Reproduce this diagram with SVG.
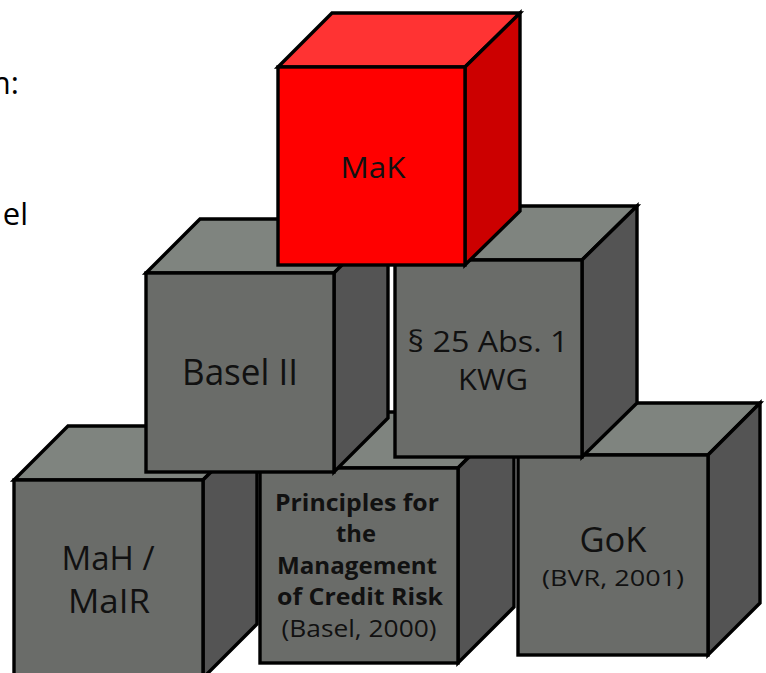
<svg xmlns="http://www.w3.org/2000/svg" width="766" height="673" viewBox="0 0 766 673">
  <style>
    .edge { stroke: #000; stroke-width: 3.4; stroke-linejoin: miter; }
    .g-front { fill: #6a6c69; }
    .g-top { fill: #7f847f; }
    .g-side { fill: #545454; }
    .r-front { fill: #ff0000; }
    .r-top { fill: #ff3333; }
    .r-side { fill: #cc0000; }
    .lbl { font-family: "Open Sans", "DejaVu Sans", sans-serif; fill: #111; text-anchor: middle; }
    .bold { font-weight: bold; }
    .side-txt { font-family: "Open Sans", "Liberation Sans", sans-serif; fill: #000; font-size: 31px; text-anchor: end; }
  </style>

  <!-- text running off the left edge -->
  <text class="side-txt" x="19" y="94">n:</text>
  <text class="side-txt" x="28" y="225">el</text>

  <!-- bottom row -->
  <g id="cube-mah">
    <polygon class="edge g-top" points="14,480 68,426 257,426 203,480"/>
    <polygon class="edge g-side" points="203,480 257,426 257,624 203,678"/>
    <rect class="edge g-front" x="14" y="480" width="189" height="198"/>
    <text class="lbl" font-size="32" x="108" y="570" textLength="93" lengthAdjust="spacingAndGlyphs">MaH /</text>
    <text class="lbl" font-size="32" x="109" y="613" textLength="82" lengthAdjust="spacingAndGlyphs">MaIR</text>
  </g>

  <g id="cube-principles">
    <polygon class="edge g-top" points="260,468 316,412 514,412 458,468"/>
    <polygon class="edge g-side" points="458,468 514,412 514,607 458,663"/>
    <rect class="edge g-front" x="260" y="468" width="198" height="195"/>
    <text class="lbl bold" font-size="23" x="357" y="511" textLength="164" lengthAdjust="spacingAndGlyphs">Principles for</text>
    <text class="lbl bold" font-size="23" x="356" y="542" textLength="40" lengthAdjust="spacingAndGlyphs">the</text>
    <text class="lbl bold" font-size="23" x="357" y="574" textLength="160" lengthAdjust="spacingAndGlyphs">Management</text>
    <text class="lbl bold" font-size="23" x="360" y="605" textLength="166" lengthAdjust="spacingAndGlyphs">of Credit Risk</text>
    <text class="lbl" font-size="23" x="359" y="637" textLength="155" lengthAdjust="spacingAndGlyphs">(Basel, 2000)</text>
  </g>

  <g id="cube-gok">
    <polygon class="edge g-top" points="518,455 570,403 760,403 708,455"/>
    <polygon class="edge g-side" points="708,455 760,403 760,603 708,655"/>
    <rect class="edge g-front" x="518" y="455" width="190" height="200"/>
    <text class="lbl" font-size="34" x="613" y="552" textLength="67" lengthAdjust="spacingAndGlyphs">GoK</text>
    <text class="lbl" font-size="22" x="613" y="586" textLength="142" lengthAdjust="spacingAndGlyphs">(BVR, 2001)</text>
  </g>

  <!-- middle row -->
  <g id="cube-basel">
    <polygon class="edge g-top" points="146,273 200,219 388,219 334,273"/>
    <polygon class="edge g-side" points="334,273 388,219 388,418 334,472"/>
    <rect class="edge g-front" x="146" y="273" width="188" height="199"/>
    <text class="lbl" font-size="37" x="240" y="385" textLength="116" lengthAdjust="spacingAndGlyphs">Basel II</text>
  </g>

  <g id="cube-kwg">
    <polygon class="edge g-top" points="395,260 449,206 637,206 582,260"/>
    <polygon class="edge g-side" points="582,260 637,206 637,403 582,457"/>
    <rect class="edge g-front" x="395" y="260" width="187" height="197"/>
    <text class="lbl" font-size="29" x="488" y="352" textLength="161" lengthAdjust="spacingAndGlyphs">§ 25 Abs. 1</text>
    <text class="lbl" font-size="29" x="493" y="390" textLength="70" lengthAdjust="spacingAndGlyphs">KWG</text>
  </g>

  <!-- top -->
  <g id="cube-mak">
    <polygon class="edge r-top" points="278,67 332,13 520,13 465,67"/>
    <polygon class="edge r-side" points="465,67 520,13 520,211 465,265"/>
    <rect class="edge r-front" x="278" y="67" width="187" height="198"/>
    <text class="lbl" font-size="29" x="373" y="178" textLength="65" lengthAdjust="spacingAndGlyphs">MaK</text>
  </g>
</svg>
